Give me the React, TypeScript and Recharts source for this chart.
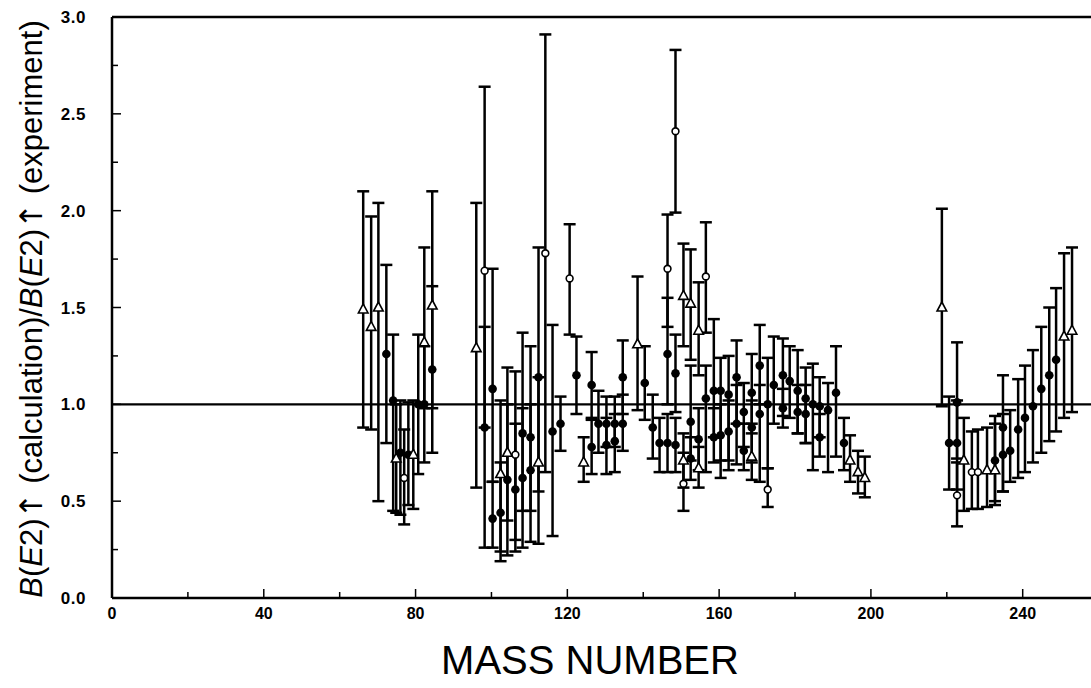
import React from "react";
import { ScatterChart, Scatter, XAxis, YAxis, ErrorBar, ReferenceLine, Label } from "recharts";

// each point: [mass number, ratio, lower end of bar, upper end of bar]
const triangles = [
  [66.2, 1.49, 0.88, 2.1],
  [68.3, 1.4, 0.87, 1.97],
  [70.2, 1.5, 0.5, 2.04],
  [74.9, 0.72, 0.44, 1.0],
  [79.4, 0.74, 0.46, 1.02],
  [82.3, 1.32, 0.98, 1.81],
  [84.4, 1.51, 0.98, 2.1],
  [96.0, 1.29, 0.57, 2.04],
  [102.4, 0.64, 0.24, 1.02],
  [104.2, 0.75, 0.4, 1.19],
  [112.4, 0.7, 0.28, 1.14],
  [124.3, 0.7, 0.6, 0.83],
  [138.5, 1.31, 0.97, 1.66],
  [150.6, 1.56, 1.3, 1.83],
  [150.6, 0.71, 0.57, 0.85],
  [152.5, 1.52, 1.23, 1.8],
  [154.6, 1.38, 1.15, 1.63],
  [154.6, 0.67, 0.57, 0.78],
  [168.6, 0.73, 0.61, 0.9],
  [194.5, 0.71, 0.6, 0.84],
  [196.6, 0.65, 0.54, 0.76],
  [198.4, 0.62, 0.52, 0.73],
  [218.7, 1.5, 0.99, 2.01],
  [224.5, 0.71, 0.45, 0.93],
  [230.6, 0.66, 0.47, 0.88],
  [232.7, 0.66, 0.48, 0.94],
  [250.9, 1.35, 0.93, 1.78],
  [253.0, 1.38, 0.96, 1.81],
];

const openCircles = [
  [77.0, 0.62, 0.38, 0.87],
  [98.2, 1.69, 0.88, 2.64],
  [106.3, 0.74, 0.3, 1.17],
  [114.2, 1.78, 0.65, 2.91],
  [120.6, 1.65, 1.36, 1.93],
  [146.4, 1.7, 1.4, 1.98],
  [148.5, 2.41, 1.99, 2.83],
  [150.6, 0.59, 0.45, 0.75],
  [156.5, 1.66, 1.37, 1.94],
  [172.8, 0.56, 0.47, 0.67],
  [222.7, 0.53, 0.37, 0.7],
  [226.6, 0.65, 0.46, 0.86],
  [228.2, 0.65, 0.46, 0.87],
];

const filled = [
  [72.3, 1.26, 0.8, 1.72],
  [74.1, 1.02, 0.45, 1.36],
  [76.0, 0.75, 0.43, 1.02],
  [78.1, 0.74, 0.48, 1.01],
  [80.7, 1.0, 0.64, 1.36],
  [82.3, 1.0, 0.7, 1.3],
  [84.4, 1.18, 0.75, 1.61],
  [98.2, 0.88, 0.26, 1.4],
  [100.3, 1.08, 0.6, 1.7],
  [100.3, 0.41, 0.26, 0.6],
  [102.4, 0.44, 0.19, 0.7],
  [104.2, 0.61, 0.22, 1.0],
  [106.3, 0.56, 0.24, 0.9],
  [108.2, 0.85, 0.45, 1.37],
  [108.2, 0.62, 0.26, 0.98],
  [110.3, 0.83, 0.45, 1.3],
  [110.3, 0.66, 0.29, 1.0],
  [112.4, 1.14, 0.55, 1.81],
  [116.1, 0.86, 0.32, 1.41],
  [118.2, 0.9, 0.76, 1.04],
  [122.4, 1.15, 0.95, 1.35],
  [126.4, 1.1, 0.93, 1.27],
  [126.4, 0.78, 0.64, 0.92],
  [128.2, 0.9, 0.75, 1.07],
  [130.3, 0.9, 0.78, 1.04],
  [130.3, 0.79, 0.64, 0.93],
  [132.5, 0.9, 0.78, 1.04],
  [132.5, 0.81, 0.65, 0.95],
  [134.6, 1.14, 0.95, 1.33],
  [134.6, 0.9, 0.76, 1.05],
  [140.4, 1.11, 0.92, 1.3],
  [142.5, 0.88, 0.72, 1.05],
  [144.3, 0.8, 0.65, 0.93],
  [146.4, 1.26, 1.0, 1.55],
  [146.4, 0.8, 0.65, 0.95],
  [148.5, 1.16, 0.96, 1.36],
  [148.5, 0.79, 0.65, 0.93],
  [152.5, 0.91, 0.71, 1.2],
  [152.5, 0.72, 0.61, 0.83],
  [154.6, 0.82, 0.66, 0.98],
  [156.5, 1.03, 0.65, 1.2],
  [158.6, 1.07, 0.83, 1.44],
  [158.6, 0.83, 0.7, 0.98],
  [160.4, 1.07, 0.71, 1.24],
  [160.4, 0.84, 0.62, 1.0],
  [162.5, 1.05, 0.71, 1.25],
  [162.5, 0.86, 0.66, 1.02],
  [164.6, 1.14, 0.9, 1.33],
  [164.6, 0.9, 0.69, 1.1],
  [166.5, 0.96, 0.78, 1.11],
  [166.5, 0.76, 0.66, 0.9],
  [168.6, 1.06, 0.85, 1.26],
  [168.6, 0.88, 0.7, 1.02],
  [170.7, 1.2, 1.0, 1.41],
  [170.7, 0.95, 0.6, 1.1],
  [172.8, 1.0, 0.67, 1.24],
  [174.4, 1.1, 0.9, 1.35],
  [176.8, 1.15, 0.94, 1.34],
  [176.8, 0.98, 0.88, 1.08],
  [178.6, 1.12, 0.93, 1.3],
  [180.7, 1.07, 0.85, 1.28],
  [180.7, 0.96, 0.85, 1.1],
  [182.8, 1.03, 0.8, 1.19],
  [182.8, 0.95, 0.8, 1.1],
  [184.7, 1.0, 0.66, 1.21],
  [186.5, 0.99, 0.83, 1.14],
  [186.5, 0.83, 0.73, 0.95],
  [188.7, 0.97, 0.65, 1.11],
  [190.8, 1.06, 0.73, 1.3],
  [192.9, 0.8, 0.66, 0.93],
  [220.6, 0.8, 0.56, 1.04],
  [222.7, 1.01, 0.72, 1.32],
  [222.7, 0.8, 0.56, 1.02],
  [232.7, 0.71, 0.5, 0.9],
  [234.8, 0.88, 0.55, 1.15],
  [234.8, 0.74, 0.55, 0.95],
  [236.7, 0.76, 0.6, 0.97],
  [238.8, 0.87, 0.62, 1.13],
  [240.6, 0.93, 0.65, 1.2],
  [242.7, 0.99, 0.7, 1.28],
  [244.9, 1.08, 0.75, 1.4],
  [247.0, 1.15, 0.81, 1.5],
  [248.8, 1.23, 0.86, 1.6],
];

const xTicks = [0, 20, 40, 60, 80, 100, 120, 140, 160, 180, 200, 220, 240];
const xLabelTicks = [0, 40, 80, 120, 160, 200, 240];
const yTicks = [0, 0.25, 0.5, 0.75, 1, 1.25, 1.5, 1.75, 2, 2.25, 2.5, 2.75, 3];
const yLabelTicks = [0, 0.5, 1, 1.5, 2, 2.5, 3];

const toRows = (pts: number[][]) =>
  pts.map(([mass, ratio, lo, hi]) => ({ mass, ratio, err: [ratio - lo, hi - ratio] }));

const tickFont = { fontFamily: "Liberation Sans, Arial, sans-serif", fontWeight: 700, fill: "#000" };

const XTick = (props: any) => {
  const { x, y, payload } = props;
  const major = xLabelTicks.includes(payload.value);
  return (
    <g>
      <line x1={x} x2={x} y1={y} y2={y - (major ? 9 : 6)} stroke="#000" strokeWidth={1.5} />
      {major && (
        <text x={x} y={y + 21} textAnchor="middle" fontSize={16} {...tickFont}>
          {payload.value}
        </text>
      )}
    </g>
  );
};

const YTick = (props: any) => {
  const { x, y, payload } = props;
  const major = yLabelTicks.includes(payload.value);
  return (
    <g>
      <line x1={x} x2={x + (major ? 9 : 6)} y1={y} y2={y} stroke="#000" strokeWidth={1.5} />
      {major && (
        <text x={x - 26} y={y + 6} textAnchor="end" fontSize={17} letterSpacing={0.5} {...tickFont}>
          {payload.value.toFixed(1)}
        </text>
      )}
    </g>
  );
};

const Triangle = ({ cx, cy }: any) => (
  <polygon
    points={`${cx},${cy - 5.5} ${cx - 4.8},${cy + 3.5} ${cx + 4.8},${cy + 3.5}`}
    fill="#fff"
    stroke="#000"
    strokeWidth={1.6}
  />
);
const OpenDot = ({ cx, cy }: any) => (
  <circle cx={cx} cy={cy} r={3.4} fill="#fff" stroke="#000" strokeWidth={1.6} />
);
const Dot = ({ cx, cy }: any) => <circle cx={cx} cy={cy} r={4.3} fill="#000" />;

const labelFont = "Liberation Sans, Arial, sans-serif";
const arrow = <tspan fontFamily="DejaVu Sans">↑</tspan>;

export default function App() {
  return (
    <div style={{ position: "absolute", left: 0, top: 0, background: "#fff" }}>
      <ScatterChart width={1091} height={688} margin={{ top: 17, right: 0, bottom: 0, left: 0 }}>
        <XAxis
          type="number"
          dataKey="mass"
          domain={[0, 258]}
          ticks={xTicks}
          interval={0}
          height={90}
          tickSize={0}
          tickMargin={0}
          tickLine={false}
          tick={<XTick />}
          axisLine={{ stroke: "#000", strokeWidth: 2.5 }}
        >
          <Label
            content={() => (
              <text x={590} y={674} textAnchor="middle" fontFamily={labelFont} fontSize={40} fill="#000">
                MASS NUMBER
              </text>
            )}
          />
        </XAxis>
        <YAxis
          type="number"
          dataKey="ratio"
          domain={[0, 3]}
          ticks={yTicks}
          interval={0}
          width={112}
          tickSize={0}
          tickMargin={0}
          tickLine={false}
          tick={<YTick />}
          axisLine={{ stroke: "#000", strokeWidth: 2.5 }}
        >
          <Label
            content={() => (
              <text
                x={31}
                y={309}
                transform="rotate(-90, 31, 309)"
                textAnchor="middle"
                dominantBaseline="central"
                fontFamily={labelFont}
                fontSize={31}
                fill="#000"
              >
                <tspan fontStyle="italic">B</tspan>(<tspan fontStyle="italic">E</tspan>2){arrow} (calculation)/
                <tspan fontStyle="italic">B</tspan>(<tspan fontStyle="italic">E</tspan>2){arrow} (experiment)
              </text>
            )}
          />
        </YAxis>
        <ReferenceLine y={3} stroke="#000" strokeWidth={2.5} />
        <ReferenceLine y={1} stroke="#000" strokeWidth={2.2} />
        <Scatter data={toRows(filled)} dataKey="ratio" shape={Dot} isAnimationActive={false}>
          <ErrorBar dataKey="err" direction="y" width={6} stroke="#000" strokeWidth={2.5} />
        </Scatter>
        <Scatter data={toRows(openCircles)} dataKey="ratio" shape={OpenDot} isAnimationActive={false}>
          <ErrorBar dataKey="err" direction="y" width={6} stroke="#000" strokeWidth={2.5} />
        </Scatter>
        <Scatter data={toRows(triangles)} dataKey="ratio" shape={Triangle} isAnimationActive={false}>
          <ErrorBar dataKey="err" direction="y" width={6} stroke="#000" strokeWidth={2.5} />
        </Scatter>
      </ScatterChart>
    </div>
  );
}
